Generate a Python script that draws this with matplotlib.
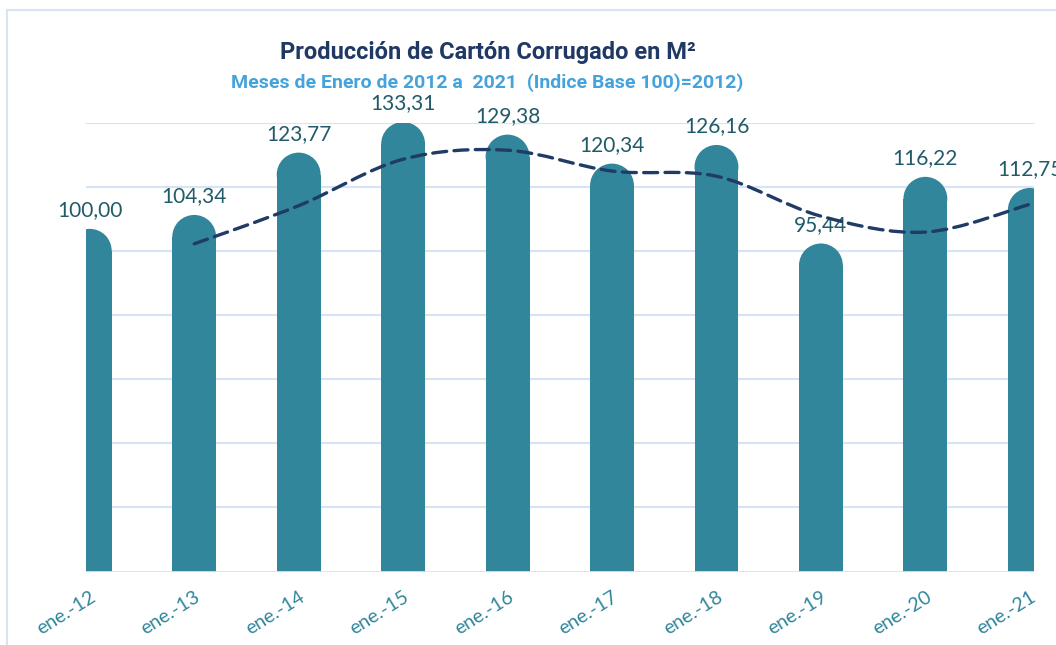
import matplotlib
matplotlib.use('Agg')
import matplotlib.pyplot as plt
from matplotlib.patches import Ellipse
from matplotlib.path import Path
from matplotlib.patches import PathPatch
from matplotlib.lines import Line2D

meses = ['ene.-12', 'ene.-13', 'ene.-14', 'ene.-15', 'ene.-16',
         'ene.-17', 'ene.-18', 'ene.-19', 'ene.-20', 'ene.-21']
indice = [100.00, 104.34, 123.77, 133.31, 129.38, 120.34, 126.16, 95.44, 116.22, 112.75]
# tendencia (media movil 2 periodos)
tend_x = [1, 2, 3, 4, 5, 6, 7, 8, 9]
tendencia = [102.17, 114.06, 128.54, 131.35, 124.86, 123.25, 110.80, 105.83, 114.49]

c_bar = '#31869B'
c_lbl = '#215A69'
c_line = '#1F3B66'
c_grid = '#D6E4F6'

fig = plt.figure(figsize=(10.56, 6.45), dpi=100)
ax = fig.add_axes([86/1056, 73.5/645, 948/1056, 449/645])
ax.set_xlim(-0.036, 9.04)
ax.set_ylim(0, 140)

for y in range(20, 141, 20):
	ax.axhline(y, color=c_grid, lw=1.6, zorder=0)

w = 0.42
ax.bar(range(len(indice)), indice, width=w, color=c_bar, lw=0, zorder=2)

# tapa redondeada de cada barra
px_x = 948 / (9.04 + 0.036)
px_y = 449 / 140
for i, v in enumerate(indice):
	e = Ellipse((i, v), w, w * px_x / px_y, fc=c_bar, lw=0, zorder=2)
	ax.add_patch(e)
	ax.text(i, v + 6.6 + 3.0, ('%.2f' % v).replace('.', ','), ha='center', va='bottom',
			fontsize=15, color=c_lbl, family=['Lato', 'DejaVu Sans'], clip_on=False, zorder=4)

ax.axhline(0, color=c_grid, lw=2, zorder=3)

# linea suavizada (bezier tipo Excel)
pts = list(zip(tend_x, tendencia))
verts = [pts[0]]
codes = [Path.MOVETO]
for k in range(len(pts) - 1):
	p0 = pts[k - 1] if k > 0 else pts[k]
	p1 = pts[k]
	p2 = pts[k + 1]
	p3 = pts[k + 2] if k + 2 < len(pts) else pts[k + 1]
	c1 = (p1[0] + (p2[0] - p0[0]) / 6, p1[1] + (p2[1] - p0[1]) / 6)
	c2 = (p2[0] - (p3[0] - p1[0]) / 6, p2[1] - (p3[1] - p1[1]) / 6)
	verts += [c1, c2, p2]
	codes += [Path.CURVE4] * 3
ax.add_patch(PathPatch(Path(verts, codes), fill=False, ec=c_line, lw=2.4,
					   ls=(0, (4.2, 2.2)), capstyle='round', zorder=5))

ax.set_xticks(range(len(meses)))
ax.set_xticklabels(meses, rotation=32, ha='right', rotation_mode='anchor',
				   fontsize=14, color=c_bar, family=['Lato', 'DejaVu Sans'])
ax.tick_params(axis='x', length=0, pad=12)
ax.tick_params(axis='y', left=False, labelleft=False)
for s in ax.spines.values():
	s.set_visible(False)

fig.text(488/1056, 1 - 59/645, 'Producción de Cartón Corrugado en M²', ha='center', va='baseline',
		 fontsize=17, fontweight='bold', color='#203864', family=['Roboto', 'DejaVu Sans'])
fig.text(487/1056, 1 - 88/645, 'Meses de Enero de 2012 a  2021  (Indice Base 100)=2012)', ha='center', va='baseline',
		 fontsize=14, fontweight='bold', color='#45A3DC', family=['Roboto', 'DejaVu Sans'])

# borde del area del grafico
fig.add_artist(Line2D([7/1056, 7/1056], [0, 1 - 10/645], color=c_grid, lw=1.5))
fig.add_artist(Line2D([7/1056, 1], [1 - 10/645, 1 - 10/645], color=c_grid, lw=1.5))

fig.savefig('out.png', dpi=100)
